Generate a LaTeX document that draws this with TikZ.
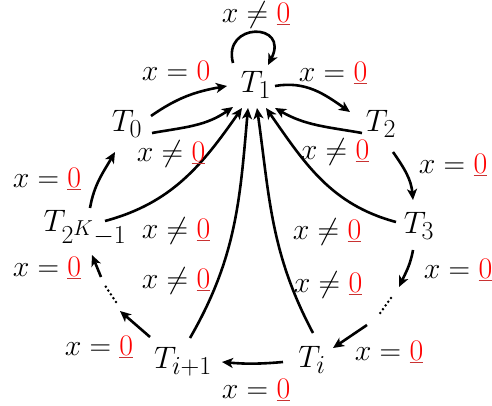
\documentclass[tikz,border=0pt]{standalone}
\usetikzlibrary{arrows.meta}
\definecolor{zred}{RGB}{255,0,0}
\definecolor{ulred}{RGB}{200,50,50}
\newcommand{\zz}{\textcolor{zred}{0}}
\newcommand{\zu}{\textcolor{ulred}{\underline{\textcolor{zred}{0}}}}
\begin{document}
\begin{tikzpicture}[x=1pt,y=-1pt,
  lbl/.style={font=\fontsize{24.88}{30}\selectfont, inner sep=0pt, scale=1.2},
  st/.style={font=\fontsize{24.88}{30}\selectfont, inner sep=0pt, scale=1.25},
  arr/.style={line width=2.6pt, -{Stealth[length=11pt,width=10pt,inset=3pt]}},
  dotl/.style={line width=2.8pt, line cap=round, dash pattern=on 0pt off 4.6pt}]
\useasboundingbox (0,0) rectangle (492,406);
% states
\node[st] (T1) at (256,85) {$T_1$};
\node[st] (T0) at (127,124) {$T_0$};
\node[st] (T2) at (381,124) {$T_2$};
\node[st] (T3) at (419,226) {$T_3$};
\node[st] (TK) at (85,228) {$T_{2^K-1}$};
\node[st] (Tip) at (183,362) {$T_{i+1}$};
\node[st] (Ti) at (312,360) {$T_i$};
% free ends around the dots
\coordinate (r1) at (399,287);
\coordinate (r2) at (391,298);
\coordinate (r3) at (378,316);
\coordinate (r4) at (367,325);
\coordinate (l1) at (120,311);
\coordinate (l2) at (116,302);
\coordinate (l3) at (104,284);
\coordinate (l4) at (101,277);
% self loop
\draw[arr] ([shift={(-23,-22)}]T1.center) .. controls +(-11,-41) and +(22,-43) .. ([shift={(12,-20)}]T1.center);
% T0 -> T1
\draw[arr] ([shift={(24,-8)}]T0.center) to[out=35,in=190] ([shift={(-29,1)}]T1.center);
\draw[arr] ([shift={(25,9)}]T0.center) to[out=10,in=215] ([shift={(-23,22)}]T1.center);
% T1 <-> T2
\draw[arr] ([shift={(19,1)}]T1.center) to[out=10,in=145] ([shift={(-31,-12)}]T2.center);
\draw[arr] ([shift={(-19,9)}]T2.center) to[out=170,in=-30] ([shift={(19,23)}]T1.center);
% T2 -> T3
\draw[arr] ([shift={(12,28)}]T2.center) to[out=-55,in=95] ([shift={(-6,-26)}]T3.center);
% T3 -> ... -> Ti
\draw[arr] ([shift={(-6,24)}]T3.center) to[out=-100,in=65] (r1);
\draw[dotl] (r2) -- (r3);
\draw[arr] (r4) -- ([shift={(21,-12)}]Ti.center);
% Ti -> Ti+1
\draw[arr] ([shift={(-29,2)}]Ti.center) to[bend left=5] ([shift={(39,0)}]Tip.center);
% Ti+1 -> ... -> T2K-1
\draw[arr] ([shift={(-33,-25)}]Tip.center) -- (l1);
\draw[dotl] (l2) -- (l3);
\draw[arr] (l4) -- ([shift={(7,27)}]TK.center);
% T2K-1 -> T0
\draw[arr] ([shift={(5,-20)}]TK.center) to[out=80,in=240] ([shift={(-12,28)}]T0.center);
% returns to T1
\draw[arr] ([shift={(20,-7)}]TK.center) to[out=15,in=235] ([shift={(-14,23)}]T1.center);
\draw[arr] ([shift={(7,-24)}]Tip.center) to[out=60,in=265] ([shift={(-8,23)}]T1.center);
\draw[arr] ([shift={(1,-27)}]Ti.center) to[out=118,in=-82] ([shift={(1,23)}]T1.center);
\draw[arr] ([shift={(-23,-4)}]T3.center) to[out=165,in=-55] ([shift={(10,23)}]T1.center);
% labels
\node[lbl] (a1) at (256,15) {$x \neq \zu$};
\node[lbl] (a2) at (176,71) {$x = \zz$};
\node[lbl] (a3) at (171,154) {$x \neq \zu$};
\node[lbl] (a4) at (333,73) {$x = \zu$};
\node[lbl] (a5) at (335,152) {$x \neq \zu$};
\node[lbl] (a6) at (453,165) {$x = \zu$};
\node[lbl] (a7) at (47,179) {$x = \zu$};
\node[lbl] (a8) at (176,231) {$x \neq \zu$};
\node[lbl] (a9) at (327,232) {$x \neq \zu$};
\node[lbl] (a10) at (47,268) {$x = \zu$};
\node[lbl] (a11) at (176,281) {$x \neq \zu$};
\node[lbl] (a12) at (328,285) {$x \neq \zu$};
\node[lbl] (a13) at (458,270) {$x = \zu$};
\node[lbl] (a14) at (99,347) {$x = \zu$};
\node[lbl] (a15) at (389,352) {$x = \zu$};
\node[lbl] (a16) at (256,390) {$x = \zu$};
\end{tikzpicture}
\end{document}
